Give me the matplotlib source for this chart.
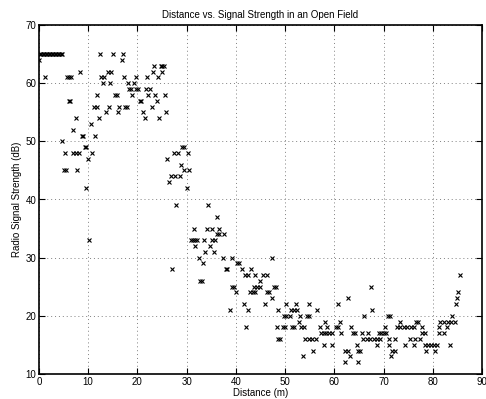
import numpy as np
import matplotlib
matplotlib.use("Agg")
from matplotlib import pyplot as plt

plt.rcParams['font.family'] = ['Liberation Sans', 'DejaVu Sans']

# Readings grouped by signal strength (dB): distances (m) at each level
readings = {
    65: [0.2, 0.5, 0.8, 1.1, 1.4, 1.7, 2.0, 2.3, 2.6, 2.9, 3.2, 3.5, 3.8, 4.1, 4.4, 4.7,
         12.5, 15.0, 17.0],
    64: [0.0, 16.8],
    63: [23.3, 24.7, 25.1, 25.4],
    62: [8.3, 14.0, 14.7, 23.1, 25.1],
    61: [1.3, 5.7, 6.1, 6.5, 12.7, 13.3, 17.3, 19.7, 22.0, 24.2],
    60: [13.1, 14.4, 18.0, 19.4],
    59: [18.4, 18.7, 19.8, 20.1, 21.7, 22.5],
    58: [11.9, 15.5, 15.9, 19.0, 22.2, 23.6, 25.6],
    57: [6.2, 6.4, 20.5, 20.8, 23.9],
    56: [11.2, 11.8, 14.2, 16.3, 17.5, 17.8, 23.0],
    55: [13.6, 16.1, 21.1, 25.8],
    54: [7.5, 12.3, 21.5, 24.4],
    53: [10.6],
    52: [7.0],
    51: [8.7, 8.9, 11.4],
    50: [4.7],
    49: [9.4, 9.6, 29.1, 29.5],
    48: [5.3, 7.0, 7.5, 8.1, 10.8, 27.5, 28.3, 30.3],
    47: [10.0, 26.1],
    46: [28.9],
    45: [5.1, 5.6, 7.8, 29.5, 30.5],
    44: [26.8, 27.6, 28.7],
    43: [26.4],
    42: [9.5, 30.0],
    39: [27.8, 34.4],
    37: [36.1],
    35: [31.4, 34.2, 35.1, 36.6],
    34: [36.2, 36.6, 37.5],
    33: [10.2, 30.8, 31.3, 31.8, 32.2, 33.5, 35.2, 35.8],
    32: [31.7, 34.8],
    31: [33.8, 35.6],
    30: [32.6, 37.3, 39.2, 47.4],
    29: [33.4, 40.3, 40.7],
    28: [27.0, 37.9, 38.3, 41.2, 43.1],
    27: [41.9, 42.4, 43.9, 45.6, 46.3, 85.6],
    26: [32.7, 33.1, 44.8],
    25: [39.3, 39.7, 43.7, 44.2, 44.9, 47.8, 48.1, 67.5],
    24: [40.0, 42.9, 43.4, 43.9, 46.3, 46.8, 85.2],
    23: [47.3, 62.7, 84.8],
    22: [41.7, 45.9, 50.1, 52.2, 54.9, 60.8, 84.6],
    21: [38.8, 42.5, 48.6, 51.2, 51.8, 52.5, 56.4, 67.7],
    20: [49.7, 50.2, 51.0, 53.0, 54.4, 54.8, 66.1, 70.9, 71.3, 83.9],
    19: [52.9, 58.1, 61.2, 73.4, 76.6, 77.0, 81.5, 82.2, 83.0, 83.7, 84.5],
    18: [42.0, 48.3, 49.5, 50.0, 51.4, 51.8, 53.2, 53.9, 57.0, 58.5, 60.3, 60.8, 63.4,
         70.3, 72.7, 73.4, 74.1, 74.8, 75.5, 76.1, 77.8, 81.2, 82.9],
    17: [57.2, 57.8, 58.4, 59.0, 59.5, 61.4, 63.7, 64.1, 65.6, 66.9, 69.0, 69.5, 70.0,
         70.4, 77.8, 78.5, 81.2, 82.2],
    16: [48.6, 48.9, 54.1, 54.8, 55.5, 56.2, 65.9, 66.6, 67.3, 68.0, 68.6, 69.2, 71.1,
         72.4, 75.4, 76.3, 77.4],
    15: [57.8, 59.5, 64.6, 68.6, 71.0, 74.4, 76.1, 78.5, 79.1, 79.7, 80.2, 80.8, 83.5],
    14: [55.6, 62.2, 62.7, 64.9, 65.3, 71.7, 72.3, 78.7, 80.5],
    13: [53.6, 63.1, 71.5],
    12: [62.2, 64.7],
}

distance = []
signal = []
for db, xs in readings.items():
    distance += xs
    signal += [db] * len(xs)
distance = np.array(distance)
signal = np.array(signal)

fig = plt.figure(figsize=(4.86, 3.99), dpi=100)
ax = fig.add_axes([0.080, 0.063, 0.912, 0.874])

ax.plot(distance, signal, 'x', color='black', markersize=3.3, markeredgewidth=0.8)

ax.set_xlim(0, 90)
ax.set_ylim(10, 70)
ax.set_xticks(np.arange(0, 91, 10))
ax.set_yticks(np.arange(10, 71, 10))
ax.grid(True, linestyle=(0, (1, 3)), color='#808080', linewidth=0.7)
ax.tick_params(direction='in', top=True, right=True, labelsize=7, length=4, width=0.8, pad=2)
for s in ax.spines.values():
    s.set_linewidth(1.2)

ax.set_title('Distance vs. Signal Strength in an Open Field', fontsize=7, pad=5)
ax.set_xlabel('Distance (m)', fontsize=7, labelpad=1)
ax.set_ylabel('Radio Signal Strength (dB)', fontsize=7, labelpad=2)

fig.savefig('out.png', dpi=100)
